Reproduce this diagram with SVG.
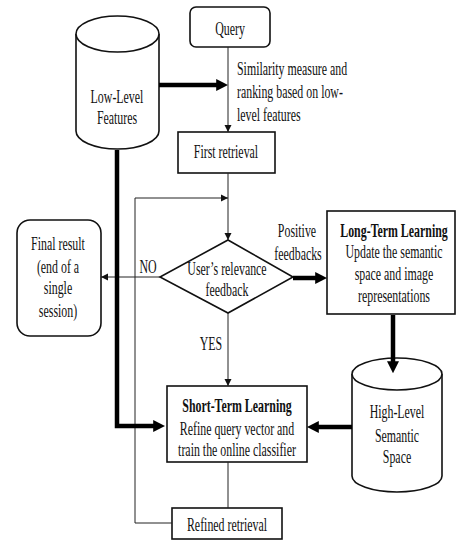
<svg xmlns="http://www.w3.org/2000/svg" width="457" height="540" viewBox="0 0 457 540">
<style>
.t{font-family:"Liberation Serif","Times New Roman",serif;font-size:18px;fill:#111;text-anchor:middle}
.l{text-anchor:start}
.b{font-weight:bold}
.box{fill:#fff;stroke:#111;stroke-width:1.6}
.thin{fill:none;stroke:#222;stroke-width:1}
.thick{fill:none;stroke:#000;stroke-width:4.5}
</style>
<defs>
<marker id="ah" viewBox="0 0 10 10" refX="10" refY="5" markerWidth="7" markerHeight="8" markerUnits="userSpaceOnUse" orient="auto"><path d="M0,0 L10,5 L0,10 z" fill="#111"/></marker>
<marker id="ahT" viewBox="0 0 10 10" refX="4" refY="5" markerWidth="12" markerHeight="13" markerUnits="userSpaceOnUse" orient="auto"><path d="M0,0 L10,5 L0,10 z" fill="#000"/></marker>
</defs>
<rect width="457" height="540" fill="#fff"/>

<g id="lowlevel">
  <path class="box" d="M76,34 V131 A41.5,18 0 0 0 159,131 V34"/>
  <ellipse class="box" cx="117.5" cy="34" rx="41.5" ry="18"/>
  <text class="t" transform="translate(117 103) scale(.66 1)">Low-Level</text>
  <text class="t" transform="translate(117 124) scale(.66 1)">Features</text>
</g>

<g id="query">
  <rect class="box" x="190" y="7" width="80" height="40" rx="6"/>
  <text class="t" transform="translate(230 35) scale(.66 1)">Query</text>
</g>

<g id="similarity-label">
  <text class="t l" transform="translate(237 75) scale(.66 1)">Similarity measure and</text>
  <text class="t l" transform="translate(237 98) scale(.66 1)">ranking based on low-</text>
  <text class="t l" transform="translate(237 121) scale(.66 1)">level features</text>
</g>

<g id="first">
  <rect class="box" x="178" y="132" width="97" height="41"/>
  <text class="t" transform="translate(226 158) scale(.66 1)">First retrieval</text>
</g>

<g id="decision">
  <path class="box" d="M228,240 L293,277 L228,313 L160,277 Z"/>
  <text class="t" transform="translate(227 275) scale(.66 1)">User’s relevance</text>
  <text class="t" transform="translate(227 296) scale(.66 1)">feedback</text>
</g>

<g id="labels">
  <text class="t" transform="translate(148 273) scale(.66 1)">NO</text>
  <text class="t" transform="translate(211 350) scale(.66 1)">YES</text>
  <text class="t" transform="translate(297 237) scale(.66 1)">Positive</text>
  <text class="t" transform="translate(298 260) scale(.66 1)">feedbacks</text>
</g>

<g id="final">
  <rect class="box" x="17" y="220" width="84" height="116" rx="13"/>
  <text class="t" transform="translate(58 250) scale(.66 1)">Final result</text>
  <text class="t" transform="translate(58 273) scale(.66 1)">(end of a</text>
  <text class="t" transform="translate(58 294) scale(.66 1)">single</text>
  <text class="t" transform="translate(58 317) scale(.66 1)">session)</text>
</g>

<g id="longterm">
  <rect class="box" x="327" y="211" width="128" height="103"/>
  <text class="t b" transform="translate(394 237) scale(.66 1)">Long-Term Learning</text>
  <text class="t" transform="translate(394 258) scale(.66 1)">Update the semantic</text>
  <text class="t" transform="translate(394 280) scale(.66 1)">space and image</text>
  <text class="t" transform="translate(394 302) scale(.66 1)">representations</text>
</g>

<g id="highlevel">
  <path class="box" d="M352,374 V476 A45,16 0 0 0 442,476 V374"/>
  <ellipse class="box" cx="397" cy="374" rx="45" ry="16"/>
  <text class="t" transform="translate(397 418) scale(.66 1)">High-Level</text>
  <text class="t" transform="translate(397 442) scale(.66 1)">Semantic</text>
  <text class="t" transform="translate(397 463) scale(.66 1)">Space</text>
</g>

<g id="shortterm">
  <rect class="box" x="167" y="386" width="140" height="76"/>
  <text class="t b" transform="translate(237 412) scale(.66 1)">Short-Term Learning</text>
  <text class="t" transform="translate(237 435) scale(.66 1)">Refine query vector and</text>
  <text class="t" transform="translate(237 456) scale(.66 1)">train the online classifier</text>
</g>

<g id="refined">
  <rect class="box" x="172" y="508" width="110" height="31"/>
  <text class="t" transform="translate(227 531) scale(.66 1)">Refined retrieval</text>
</g>

<g id="connectors">
  <path class="thick" d="M159,85 H221" marker-end="url(#ahT)"/>
  <path class="thin" d="M228,47 V132" marker-end="url(#ah)"/>
  <path class="thin" d="M228,173 V240" marker-end="url(#ah)"/>
  <path class="thin" d="M172,523 H135 V198 H228" marker-end="url(#ah)"/>
  <path class="thin" d="M160,277 H101" marker-end="url(#ah)"/>
  <path class="thin" d="M228,313 V386" marker-end="url(#ah)"/>
  <path class="thin" d="M228,462 V508"/>
  <path class="thick" d="M117,150 V426 H158" marker-end="url(#ahT)"/>
  <path class="thick" d="M293,278 H320" marker-end="url(#ahT)"/>
  <path class="thick" d="M393,315 V366" marker-end="url(#ahT)"/>
  <path class="thick" d="M352,427 H314" marker-end="url(#ahT)"/>
</g>
</svg>
